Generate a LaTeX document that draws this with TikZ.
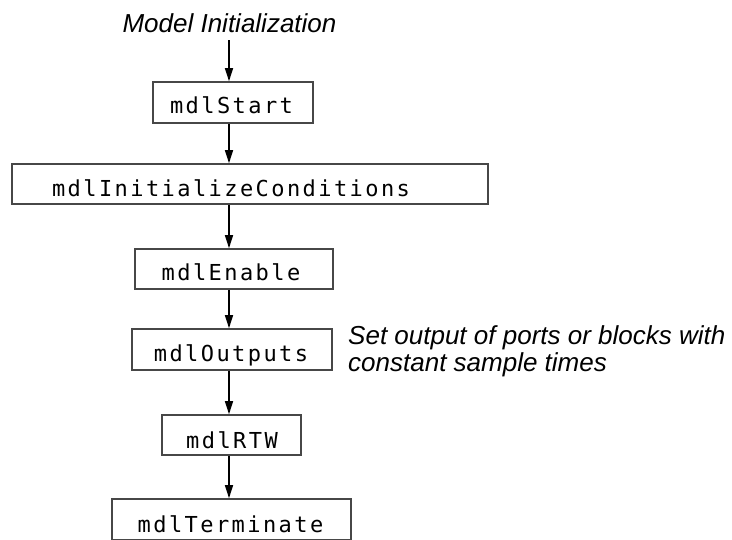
\documentclass[tikz,border=0pt]{standalone}
\usepackage{fontspec}
\setmainfont{Liberation Sans}
\newfontfamily\monofont[LetterSpace=11]{DejaVu Sans Mono}
\usetikzlibrary{arrows.meta}
\begin{document}
\begin{tikzpicture}[x=1pt,y=-1pt,
  box/.style={draw=black!72, line width=1.6pt, inner sep=0pt, rectangle},
  lbl/.style={font=\monofont\fontsize{22}{24}\selectfont, anchor=base, inner sep=0pt},
  arr/.style={line width=1.4pt, -{Triangle[width=8pt,length=13pt]}},
  note/.style={font=\itshape\fontsize{26}{27}\selectfont, inner sep=0pt}]
\useasboundingbox (0,0) rectangle (732,539);
\coordinate (ax) at (229,0);
\node[note, anchor=base] (init) at (229.5,32) {Model Initialization};
\node[box, minimum width=160pt, minimum height=41pt] (start) at (233,102.5) {};
\node[lbl] (startT) at (231.5,113) {mdlStart};
\node[box, minimum width=476pt, minimum height=40pt] (ic) at (250,184) {};
\node[lbl] (icT) at (231,196) {mdlInitializeConditions};
\node[box, minimum width=198pt, minimum height=40pt] (en) at (234,269) {};
\node[lbl] (enT) at (231,280) {mdlEnable};
\node[box, minimum width=200pt, minimum height=41pt] (out) at (232,349.5) {};
\node[lbl] (outT) at (231,361) {mdlOutputs};
\node[box, minimum width=139pt, minimum height=40pt] (rtw) at (231.5,435) {};
\node[lbl] (rtwT) at (232,448) {mdlRTW};
\node[box, minimum width=239pt, minimum height=41pt] (term) at (231.5,519.5) {};
\node[lbl] (termT) at (230.5,532) {mdlTerminate};
\node[note, anchor=base west, align=left] (side) at (348,371) {Set output of ports or blocks with\\constant sample times};
\draw[arr] ([yshift=-8pt]init.south -| ax) -- (start.north -| ax);
\draw[arr] (start.south -| ax) -- (ic.north -| ax);
\draw[arr] (ic.south -| ax) -- (en.north -| ax);
\draw[arr] (en.south -| ax) -- (out.north -| ax);
\draw[arr] (out.south -| ax) -- (rtw.north -| ax);
\draw[arr] (rtw.south -| ax) -- (term.north -| ax);
\end{tikzpicture}
\end{document}
